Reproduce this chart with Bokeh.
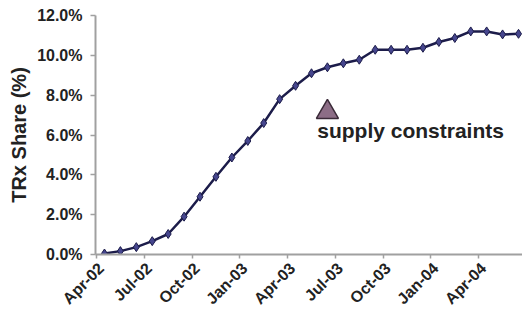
from bokeh.plotting import figure
from bokeh.models import FixedTicker, Range1d, Label
from bokeh.embed import file_html
from bokeh.resources import INLINE

months = ["Apr-02", "May-02", "Jun-02", "Jul-02", "Aug-02", "Sep-02", "Oct-02", "Nov-02", "Dec-02",
          "Jan-03", "Feb-03", "Mar-03", "Apr-03", "May-03", "Jun-03", "Jul-03", "Aug-03", "Sep-03",
          "Oct-03", "Nov-03", "Dec-03", "Jan-04", "Feb-04", "Mar-04", "Apr-04", "May-04", "Jun-04"]
share = [0.05, 0.17, 0.37, 0.67, 1.03, 1.9, 2.9, 3.9, 4.87, 5.7, 6.6, 7.8, 8.47, 9.1, 9.4, 9.6,
         9.78, 10.28, 10.28, 10.28, 10.38, 10.67, 10.87, 11.2, 11.2, 11.05, 11.08]
y_ticks = [0, 2, 4, 6, 8, 10, 12]
y_tick_labels = ["0.0%", "2.0%", "4.0%", "6.0%", "8.0%", "10.0%", "12.0%"]
label_every = 3
note_text = "supply constraints"
note_month = 14.0
note_value = 7.15

x = list(range(len(months)))
font = "Liberation Sans"

p = figure(width=522, height=316, output_backend="svg", toolbar_location=None,
           x_range=Range1d(-0.563, 26.25), y_range=Range1d(0, 12),
           min_border_left=95, min_border_right=0, min_border_top=15, min_border_bottom=61)
p.outline_line_color = None
p.grid.visible = False
p.background_fill_color = "white"
p.border_fill_color = "white"

p.line(x, share, line_color="#1c1c4a", line_width=2.5)
p.scatter(x, share, marker="diamond", size=9, fill_color="#46468e", line_color="#1c1c4a", line_width=1)

p.scatter([note_month], [note_value], marker="triangle", size=22, fill_color="#8c6d86",
          line_color="#3a2a38", line_width=1.5)
p.add_layout(Label(x=note_month - 0.64, y=note_value - 0.92, text=note_text, text_font=font,
                   text_font_size="21px", text_font_style="bold", text_color="#222222",
                   text_baseline="alphabetic", text_align="left"))

centers = x[::label_every]
label_pos = [c - 0.2 for c in centers]
bounds = [c - 0.5 for c in centers]
p.xaxis.ticker = FixedTicker(ticks=label_pos, minor_ticks=bounds)
p.xaxis.major_label_overrides = {lp: months[c] for lp, c in zip(label_pos, centers)}
p.xaxis.major_label_orientation = 0.785398
p.xaxis.major_tick_line_color = None
p.xaxis.major_tick_out = 0
p.xaxis.major_tick_in = 0
p.xaxis.minor_tick_out = 4
p.xaxis.minor_tick_in = 0
p.xaxis.minor_tick_line_color = "#a0a0a0"
p.xaxis.minor_tick_line_width = 1.5
p.xaxis.axis_line_color = "#a0a0a0"
p.xaxis.axis_line_width = 2
p.xaxis.major_label_text_font = font
p.xaxis.major_label_text_font_style = "bold"
p.xaxis.major_label_text_font_size = "16px"
p.xaxis.major_label_text_color = "#222222"
p.xaxis.major_label_standoff = 7

p.yaxis.ticker = FixedTicker(ticks=y_ticks)
p.yaxis.major_label_overrides = dict(zip(y_ticks, y_tick_labels))
p.yaxis.minor_tick_line_color = None
p.yaxis.major_tick_out = 5
p.yaxis.major_tick_in = 0
p.yaxis.major_tick_line_color = "#a0a0a0"
p.yaxis.major_tick_line_width = 1.5
p.yaxis.axis_line_color = "#a0a0a0"
p.yaxis.axis_line_width = 2
p.yaxis.major_label_text_font = font
p.yaxis.major_label_text_font_style = "bold"
p.yaxis.major_label_text_font_size = "16px"
p.yaxis.major_label_text_color = "#222222"
p.yaxis.major_label_standoff = 8
p.yaxis.axis_label = "TRx Share (%)"
p.yaxis.axis_label_text_font = font
p.yaxis.axis_label_text_font_style = "bold"
p.yaxis.axis_label_text_font_size = "20px"
p.yaxis.axis_label_text_color = "#222222"
p.yaxis.axis_label_standoff = 4

open("out.html", "w").write(file_html(p, INLINE))
